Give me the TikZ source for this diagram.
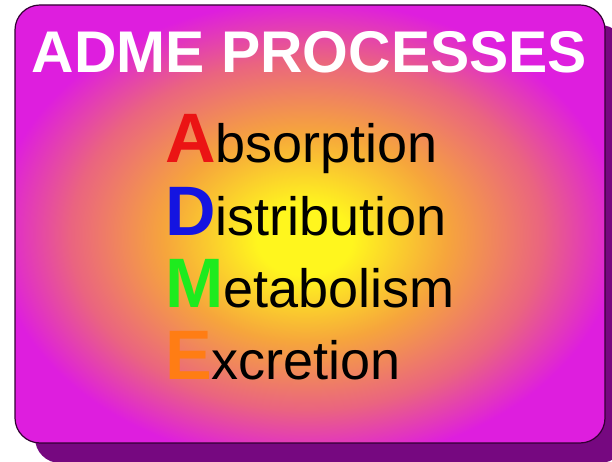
\documentclass[tikz,border=0pt]{standalone}
\usepackage{fontspec}
\setmainfont{Liberation Sans}
\definecolor{yc}{RGB}{255,246,30}
\definecolor{oc}{RGB}{246,165,60}
\definecolor{pc}{RGB}{234,100,128}
\definecolor{mc}{RGB}{222,30,222}
\definecolor{shadowc}{RGB}{118,8,128}
\definecolor{borderc}{RGB}{50,0,50}
\definecolor{ared}{RGB}{235,20,20}
\definecolor{dblue}{RGB}{20,20,225}
\definecolor{mgreen}{RGB}{30,235,30}
\definecolor{eorange}{RGB}{255,125,20}
\pgfdeclareradialshading{admeshade}{\pgfpoint{-0.5bp}{-2bp}}{color(0bp)=(yc); color(4bp)=(yc); color(12bp)=(oc); color(20bp)=(pc); color(26.5bp)=(mc); color(50bp)=(mc)}
\tikzset{
  wordline/.style={anchor=base west, inner sep=0pt, outer sep=0pt, text=black, font=\fontsize{54}{54}\selectfont},
  titletext/.style={anchor=base, inner sep=0pt, text=white, font=\fontsize{58.8}{60}\selectfont\bfseries},
  boxframe/.style={draw=borderc, line width=1.2pt, rounded corners=25pt, shading=admeshade},
  shadowbox/.style={fill=shadowc, rounded corners=25pt}
}
\begin{document}
\begin{tikzpicture}[x=1pt,y=1pt]
\useasboundingbox (0,0) rectangle (612,462);
\fill[white] (0,0) rectangle (612,462);
\begin{scope}
  \clip (0,0) rectangle (612,462);
  \path[shadowbox] (35,-1) rectangle (625,437);
\end{scope}
\path[boxframe] (15,19) rectangle (605,457);
\node[titletext] (title) at (309.5,389) {ADME PROCESSES};
\node[wordline] (a) at (165,299) {{\color{ared}\fontsize{70}{70}\selectfont\bfseries A}bsorption};
\node[wordline] (d) at (165,226) {{\color{dblue}\fontsize{70}{70}\selectfont\bfseries D}istribution};
\node[wordline] (m) at (165,154) {{\color{mgreen}\fontsize{70}{70}\selectfont\bfseries M}etabolism};
\node[wordline] (e) at (165,82) {{\color{eorange}\fontsize{70}{70}\selectfont\bfseries E}xcretion};
\end{tikzpicture}
\end{document}
